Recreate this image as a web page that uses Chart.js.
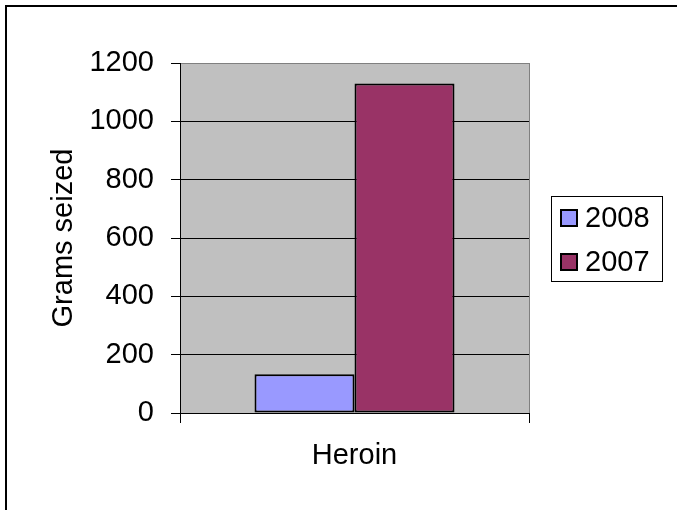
<!DOCTYPE html>
<html>
<head>
<meta charset="utf-8">
<script src="https://cdn.jsdelivr.net/npm/chart.js@4/dist/chart.umd.min.js"></script>
<style>
  html, body { margin: 0; padding: 0; background: #fff; overflow: hidden; }
  #wrap { position: relative; width: 677px; height: 510px; }
  #frame { position: absolute; left: 5px; top: 5px; width: 720px; height: 560px;
           border: 2px solid #000; pointer-events: none; box-sizing: border-box; }
</style>
</head>
<body>
<div id="wrap">
  <canvas id="c" width="677" height="510"></canvas>
  <div id="frame"></div>
</div>
<script>
// Heroin seizures, grams
const categories = ['Heroin'];
const seriesLabels = ['2008', '2007'];
const values2008 = [133];
const values2007 = [1130];
const seriesColors = ['#9999FF', '#993366'];
const axisTitle = 'Grams seized';

const FONT = "'Liberation Sans', Arial, sans-serif";
const FS = 29;

// grey plot background
const plotBg = {
  id: 'plotBg',
  beforeDraw(chart) {
    const { ctx, chartArea: a } = chart;
    ctx.save();
    ctx.fillStyle = '#C0C0C0';
    ctx.fillRect(a.left, a.top, a.right - a.left, a.bottom - a.top);
    ctx.restore();
  }
};

// boxed legend to the right of the plot
const boxLegend = {
  id: 'boxLegend',
  afterDraw(chart) {
    const { ctx } = chart;
    const x = 551, y = 196, w = 111, h = 85;
    ctx.save();
    ctx.strokeStyle = '#000';
    ctx.lineWidth = 1;
    ctx.strokeRect(x + 0.5, y + 0.5, w, h);
    ctx.font = FS + 'px ' + FONT;
    ctx.textBaseline = 'middle';
    ctx.textAlign = 'left';
    chart.data.datasets.forEach((ds, i) => {
      const cy = 218 + i * 44;
      ctx.fillStyle = ds.backgroundColor;
      ctx.fillRect(560, cy - 9, 18, 18);
      ctx.lineWidth = 2;
      ctx.strokeStyle = '#000';
      ctx.strokeRect(561, cy - 8, 16, 16);
      ctx.fillStyle = '#000';
      ctx.fillText(ds.label, 585, cy + 1);
    });
    ctx.restore();
  }
};

new Chart(document.getElementById('c'), {
  type: 'bar',
  data: {
    labels: categories,
    datasets: [
      { label: seriesLabels[0], data: values2008, backgroundColor: seriesColors[0] },
      { label: seriesLabels[1], data: values2007, backgroundColor: seriesColors[1] }
    ]
  },
  options: {
    responsive: false,
    animation: false,
    devicePixelRatio: 1,
    layout: { padding: { left: 0, right: 148, top: 63, bottom: 0 } },
    datasets: {
      bar: {
        categoryPercentage: 200 / 349,
        barPercentage: 1,
        borderColor: '#000',
        borderWidth: 2,
        borderSkipped: false
      }
    },
    plugins: {
      legend: { display: false },
      tooltip: { enabled: false },
      title: { display: false }
    },
    scales: {
      x: {
        afterFit(s) { s.height = 97; },
        grid: {
          offset: true,
          color: (c) => (c.index === 0 ? '#000' : '#808080'),
          tickColor: '#000',
          tickLength: 10,
          lineWidth: 1
        },
        border: { color: '#000', width: 1 },
        ticks: { color: '#000', font: { family: FONT, size: FS }, padding: 16 }
      },
      y: {
        min: 0,
        max: 1200,
        afterFit(s) { s.width = 180; },
        grid: {
          color: (c) => (c.tick && c.tick.value === 1200 ? '#808080' : '#000'),
          tickColor: '#000',
          tickLength: 9,
          lineWidth: 1
        },
        border: { color: '#000', width: 1 },
        ticks: {
          stepSize: 200,
          color: '#000',
          font: { family: FONT, size: FS },
          padding: 17,
          callback: (v) => String(v)
        },
        title: {
          display: true,
          text: axisTitle,
          color: '#000',
          font: { family: FONT, size: FS },
          padding: { top: 47, bottom: 0 }
        }
      }
    }
  },
  plugins: [plotBg, boxLegend]
});
</script>
</body>
</html>
